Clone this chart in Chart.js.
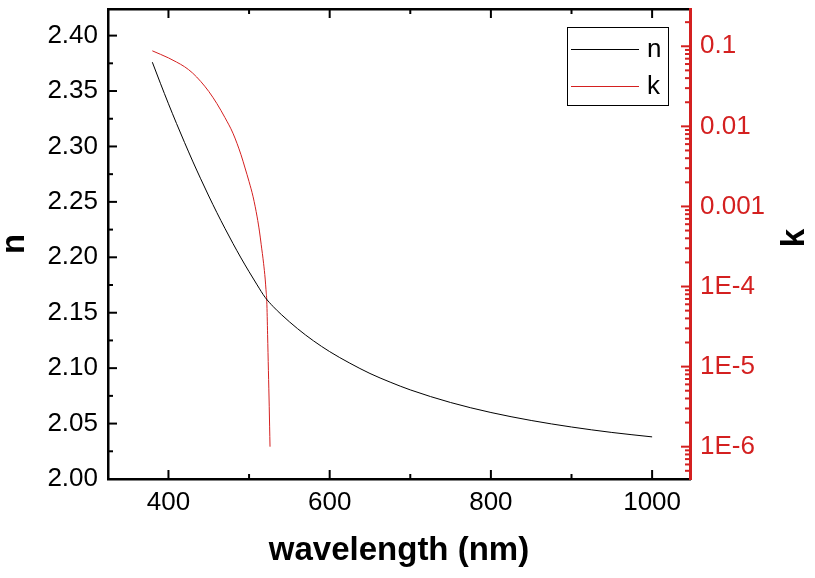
<!DOCTYPE html>
<html>
<head>
<meta charset="utf-8">
<script src="https://cdn.jsdelivr.net/npm/chart.js@4.4.0/dist/chart.umd.min.js"></script>
<style>
  html, body { margin: 0; padding: 0; background: #fff; }
</style>
</head>
<body>
<canvas id="chart" width="815" height="578"></canvas>
<script>
// refractive index n (left axis)
const nWavelength = [380, 390, 400, 410, 420, 430, 440, 450, 460, 470, 480, 490, 500, 510, 520,
  530, 540, 560, 580, 600, 625, 650, 675, 700, 750, 800, 850, 900, 950, 1000];
const nIndex = [2.376, 2.357, 2.3385, 2.3207, 2.3035, 2.2868, 2.2708, 2.2553, 2.2404, 2.2262, 2.2125, 2.1994, 2.187, 2.1751, 2.1638,
  2.1555, 2.1484, 2.1357, 2.1246, 2.1149, 2.1045, 2.0952, 2.0874, 2.0804, 2.069, 2.060, 2.0528, 2.0469, 2.042, 2.038];

// extinction coefficient k (right axis, log)
const kWavelength = [380, 390, 400, 410, 420, 430, 440, 450, 460, 470, 480, 490, 495, 500, 505,
  510, 513, 515, 518, 520, 521, 522, 523, 524, 525, 526];
const kIndex = [0.0877, 0.0794, 0.0716, 0.0635, 0.0555, 0.0463, 0.0364, 0.0273, 0.0193, 0.0129, 0.00822, 0.00442, 0.00302, 0.00204, 0.00132,
  0.00074, 0.00048, 0.000337, 0.000195, 0.000124, 0.0000912, 0.0000646, 0.0000251, 0.0000089, 0.0000032, 0.000001];

const xTickLabels = [400, 600, 800, 1000];
const nTickLabels = [2.00, 2.05, 2.10, 2.15, 2.20, 2.25, 2.30, 2.35, 2.40];
const kTickLabels = ['1E-6', '1E-5', '1E-4', '0.001', '0.01', '0.1'];

const RED = '#d42020';
Chart.defaults.font.family = "'Liberation Sans', Arial, sans-serif";

function kLabel(v) {
  const lg = Math.log10(v);
  if (Math.abs(lg - Math.round(lg)) > 1e-6) return '';
  const e = Math.round(lg);
  const txt = e >= -3 ? v.toFixed(-e) : '1E' + e;
  return kTickLabels.includes(txt) ? txt : '';
}

// fixed box sizes, and no extra room for labels hanging over the ends
function fixSize(w, h) {
  return s => {
    if (w) s.width = w;
    if (h) s.height = h;
    s.paddingTop = 0; s.paddingBottom = 0; s.paddingLeft = 0; s.paddingRight = 0;
  };
}

// ticks pointing into the plot, long for labelled values, short for the rest
const inwardTicks = {
  id: 'inwardTicks',
  afterDraw(chart) {
    const ctx = chart.ctx;
    const a = chart.chartArea;
    ctx.save();
    ['x', 'x2', 'y', 'yk'].forEach(id => {
      const s = chart.scales[id];
      ctx.strokeStyle = id === 'yk' ? RED : '#000';
      ctx.lineWidth = 2;
      s.ticks.forEach(t => {
        const v = t.value;
        let major;
        if (id === 'yk') {
          const lg = Math.log10(v);
          const sig = v / Math.pow(10, Math.floor(lg + 1e-9));
          if (Math.abs(sig - Math.round(sig)) > 1e-6) return;
          major = Math.abs(lg - Math.round(lg)) < 1e-6;
        } else if (id === 'y') {
          major = Math.abs(v * 20 - Math.round(v * 20)) < 1e-6;
        } else {
          major = xTickLabels.includes(v);
        }
        const len = major ? 9 : 5;
        const p = s.getPixelForValue(v);
        ctx.beginPath();
        if (id === 'x') { ctx.moveTo(p, a.bottom); ctx.lineTo(p, a.bottom - len); }
        if (id === 'x2') { ctx.moveTo(p, a.top); ctx.lineTo(p, a.top + len); }
        if (id === 'y') { ctx.moveTo(a.left, p); ctx.lineTo(a.left + len, p); }
        if (id === 'yk') { ctx.moveTo(a.right, p); ctx.lineTo(a.right - len, p); }
        ctx.stroke();
      });
    });
    ctx.restore();
  }
};

// boxed legend in the top right corner + right axis title read bottom to top
const boxLegend = {
  id: 'boxLegend',
  afterDraw(chart) {
    const ctx = chart.ctx;
    const a = chart.chartArea;
    const left = a.right - 123, top = a.top + 18;
    ctx.save();
    ctx.strokeStyle = '#000';
    ctx.lineWidth = 1;
    ctx.strokeRect(left + 0.5, top + 0.5, 101, 78);
    ctx.font = "26px 'Liberation Sans', Arial, sans-serif";
    ctx.textBaseline = 'middle';
    ctx.textAlign = 'left';
    chart.data.datasets.forEach((ds, i) => {
      const y = top + 22.5 + i * 37;
      ctx.strokeStyle = ds.borderColor;
      ctx.beginPath();
      ctx.moveTo(left + 4, y);
      ctx.lineTo(left + 72, y);
      ctx.stroke();
      ctx.fillStyle = '#000';
      ctx.fillText(ds.label, left + 80, y);
    });
    ctx.translate(795, 238);
    ctx.rotate(-Math.PI / 2);
    ctx.font = "bold 33px 'Liberation Sans', Arial, sans-serif";
    ctx.textAlign = 'center';
    ctx.fillText('k', 0, 0);
    ctx.restore();
  }
};

new Chart(document.getElementById('chart'), {
  type: 'line',
  data: {
    datasets: [
      {
        label: 'n',
        data: nWavelength.map((w, i) => ({ x: w, y: nIndex[i] })),
        borderColor: '#000',
        borderWidth: 1,
        pointRadius: 0,
        cubicInterpolationMode: 'monotone',
        yAxisID: 'y'
      },
      {
        label: 'k',
        data: kWavelength.map((w, i) => ({ x: w, y: kIndex[i] })),
        borderColor: RED,
        borderWidth: 1,
        pointRadius: 0,
        cubicInterpolationMode: 'monotone',
        yAxisID: 'yk'
      }
    ]
  },
  options: {
    responsive: false,
    animation: false,
    layout: { padding: 0 },
    plugins: { legend: { display: false }, tooltip: { enabled: false } },
    scales: {
      x: {
        type: 'linear', position: 'bottom', min: 325, max: 1047,
        grid: { display: false, drawTicks: false },
        border: { color: '#000', width: 2.5 },
        ticks: {
          stepSize: 100, includeBounds: false, autoSkip: false, maxRotation: 0,
          padding: 8, color: '#000', font: { size: 26 },
          callback: v => xTickLabels.includes(v) ? String(v) : ''
        },
        title: { display: true, text: 'wavelength (nm)', color: '#000',
          font: { size: 33, weight: 'bold' }, padding: { top: 0, bottom: 7 } },
        afterFit: fixSize(0, 99)
      },
      x2: {
        type: 'linear', position: 'top', min: 325, max: 1047,
        grid: { display: false, drawTicks: false },
        border: { color: '#000', width: 2.5 },
        ticks: { stepSize: 100, includeBounds: false, display: false },
        afterFit: fixSize(0, 9)
      },
      y: {
        type: 'linear', position: 'left', min: 2.0, max: 2.424,
        grid: { display: false, drawTicks: false },
        border: { color: '#000', width: 2.5 },
        ticks: {
          stepSize: 0.025, includeBounds: false, autoSkip: false,
          padding: 10, color: '#000', font: { size: 26 },
          callback: v => nTickLabels.some(t => Math.abs(t - v) < 1e-6) ? v.toFixed(2) : ''
        },
        title: { display: true, text: 'n', color: '#000',
          font: { size: 33, weight: 'bold', lineHeight: 0.9 }, padding: { top: 0, bottom: 0 } },
        afterFit: fixSize(108, 0)
      },
      yk: {
        type: 'logarithmic', position: 'right', min: 3.95e-7, max: 0.292,
        grid: { display: false, drawTicks: false },
        border: { color: RED, width: 3 },
        ticks: {
          autoSkip: false, padding: 10, color: RED, font: { size: 26 },
          callback: v => kLabel(v)
        },
        afterFit: fixSize(125, 0)
      }
    }
  },
  plugins: [inwardTicks, boxLegend]
});
</script>
</body>
</html>
